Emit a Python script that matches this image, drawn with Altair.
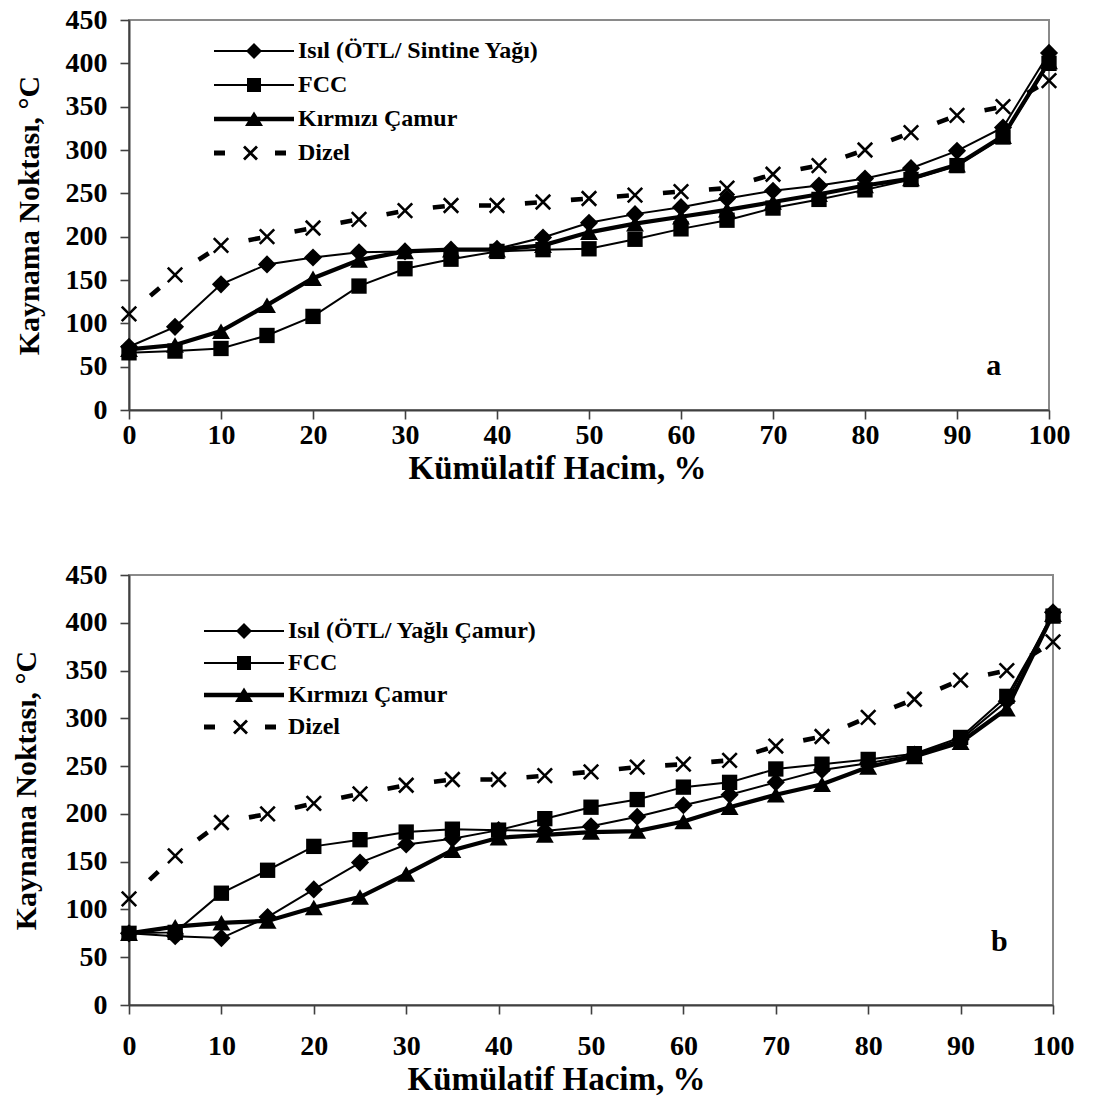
import math
import altair as alt
import pandas as pd

# ---------------- data ----------------
X = [0, 5, 10, 15, 20, 25, 30, 35, 40, 45, 50, 55, 60, 65, 70, 75, 80, 85, 90, 95, 100]
X_TICKS = [0, 10, 20, 30, 40, 50, 60, 70, 80, 90, 100]
Y_TICKS = [0, 50, 100, 150, 200, 250, 300, 350, 400, 450]

NAMES_A = ["Isıl (ÖTL/ Sintine Yağı)", "FCC", "Kırmızı Çamur", "Dizel"]
NAMES_B = ["Isıl (ÖTL/ Yağlı Çamur)", "FCC", "Kırmızı Çamur", "Dizel"]

A_ISIL = [73, 96, 145, 168, 176, 182, 183, 185, 186, 199, 216, 226, 234, 244, 253, 259, 267, 279, 299, 326, 412]
A_FCC = [66, 68, 71, 86, 108, 143, 163, 174, 183, 185, 186, 197, 209, 219, 233, 243, 254, 266, 282, 315, 400]
A_KIRMIZI = [70, 75, 91, 121, 152, 173, 183, 185, 185, 190, 205, 215, 223, 231, 240, 249, 259, 267, 283, 316, 402]
A_DIZEL = [111, 156, 190, 200, 210, 220, 230, 236, 236, 240, 244, 248, 252, 256, 272, 282, 300, 320, 340, 350, 380]

B_ISIL = [75, 72, 70, 92, 121, 149, 168, 174, 183, 182, 187, 197, 209, 220, 233, 246, 253, 262, 278, 318, 411]
B_FCC = [75, 76, 117, 141, 166, 173, 181, 184, 183, 195, 207, 215, 228, 233, 247, 252, 257, 263, 280, 323, 407]
B_KIRMIZI = [75, 82, 86, 88, 102, 113, 137, 162, 175, 178, 181, 182, 192, 207, 220, 231, 249, 260, 275, 310, 409]
B_DIZEL = [111, 156, 191, 200, 211, 221, 230, 236, 236, 240, 244, 249, 252, 256, 271, 281, 301, 320, 340, 350, 380]

X_TITLE = "Kümülatif Hacim, %"
Y_TITLE = "Kaynama Noktası, °C"

FONT = "Liberation Serif"

# ---------------- legend symbol paths (style only) ----------------
U = 12.0  # px per path unit (symbolSize = (2U)^2)


def p(v):
    return f"{v / U:.4f}"


def rect(x0, x1, hh):
    return f"M{p(x0)},{p(-hh)}L{p(x1)},{p(-hh)}L{p(x1)},{p(hh)}L{p(x0)},{p(hh)}Z"


def xmark(cx, h, t):
    e = t / 2 / math.sqrt(2)
    a = (f"M{p(cx - h + e)},{p(-h - e)}L{p(cx + h + e)},{p(h - e)}"
         f"L{p(cx + h - e)},{p(h + e)}L{p(cx - h - e)},{p(-h + e)}Z")
    b = (f"M{p(cx - h + e)},{p(h + e)}L{p(cx - h - e)},{p(h - e)}"
         f"L{p(cx + h - e)},{p(-h - e)}L{p(cx + h + e)},{p(-h + e)}Z")
    return a + b


SYM_ISIL = rect(-40, 40, 1.1) + f"M0,{p(-8)}L{p(8)},0L0,{p(8)}L{p(-8)},0Z"
SYM_FCC = rect(-40, 40, 1.1) + rect(-7, 7, 7)
SYM_KIRMIZI = rect(-40, 40, 2.3) + f"M0,{p(-7.5)}L{p(9)},{p(7)}L{p(-9)},{p(7)}Z"
SYM_DIZEL = rect(-40, -29, 2.6) + xmark(-3.5, 6.5, 2.8) + rect(21, 32, 2.6)
SYMBOLS = [SYM_ISIL, SYM_FCC, SYM_KIRMIZI, SYM_DIZEL]

X_SHAPE = "M-1,-1L1,1M1,-1L-1,1"


def panel(names, series, width, height, leg_x, leg_y, row_pad, letter, letter_x, letter_y,
          x_title_x, x_title_y, x_label_pad, y_title_x):
    rows = []
    for name, vals in zip(names, series):
        for xv, yv in zip(X, vals):
            rows.append({"x": xv, "y": yv, "s": name})
    df = pd.DataFrame(rows)

    dz = series[3]
    seg_rows = []
    for i in range(len(X) - 1):
        seg_rows.append({"x": X[i], "y": dz[i], "seg": i})
        seg_rows.append({"x": X[i + 1], "y": dz[i + 1], "seg": i})
    seg_df = pd.DataFrame(seg_rows)

    xenc = alt.X("x:Q", scale=alt.Scale(domain=[0, 100], nice=False, zero=False),
                 axis=alt.Axis(values=X_TICKS, title=X_TITLE, labelFlush=False, labelOverlap=False,
                               labelPadding=x_label_pad, titleX=x_title_x, titleY=x_title_y,
                               titleBaseline="middle", titleFontSize=33))
    yenc = alt.Y("y:Q", scale=alt.Scale(domain=[0, 450], nice=False),
                 axis=alt.Axis(values=Y_TICKS, title=Y_TITLE, labelPadding=13, labelOverlap=False,
                               titleAngle=270, titleX=y_title_x, titleY=height / 2,
                               titleBaseline="middle", titleFontSize=30))

    base = alt.Chart(df)

    def sel(i):
        return base.transform_filter(alt.datum.s == names[i])

    line_isil = sel(0).mark_line(color="black", strokeWidth=2).encode(x=xenc, y=yenc)
    line_fcc = sel(1).mark_line(color="black", strokeWidth=2).encode(x=xenc, y=yenc)
    line_kir = sel(2).mark_line(color="black", strokeWidth=4.2).encode(x=xenc, y=yenc)
    line_diz = alt.Chart(seg_df).mark_line(color="black", strokeWidth=4.6,
                                           strokeDash=[0, 28, 12, 500]).encode(
        x=xenc, y=yenc, detail="seg:N")

    pt_isil = sel(0).mark_point(shape="diamond", filled=True, color="black", opacity=1,
                                size=330).encode(x=xenc, y=yenc)
    pt_fcc = sel(1).mark_point(shape="square", filled=True, color="black", opacity=1,
                               size=235).encode(x=xenc, y=yenc)
    pt_kir = sel(2).mark_point(shape="triangle-up", filled=True, color="black", opacity=1,
                               size=320).encode(x=xenc, y=yenc)
    pt_diz = sel(3).mark_point(shape=X_SHAPE, filled=False, color="black", opacity=1,
                               strokeWidth=2.6, size=210).encode(x=xenc, y=yenc)

    legend_layer = base.transform_filter("false").mark_point(
        filled=True, color="black", opacity=1).encode(
        x=xenc, y=yenc,
        shape=alt.Shape("s:N", scale=alt.Scale(domain=names, range=SYMBOLS),
                        legend=alt.Legend(orient="none", legendX=leg_x, legendY=leg_y, title=None,
                                          padding=0, offset=0, rowPadding=row_pad,
                                          symbolSize=(2 * U) ** 2, symbolFillColor="black",
                                          symbolStrokeColor="black", symbolStrokeWidth=0,
                                          symbolOpacity=1, labelOffset=32, labelLimit=600,
                                          labelFont=FONT, labelFontWeight="bold",
                                          labelFontSize=24, labelColor="black")))

    txt = alt.Chart(pd.DataFrame({"t": [letter]})).mark_text(
        font=FONT, fontWeight="bold", fontSize=30, color="black", baseline="middle",
        align="center").encode(x=alt.datum(letter_x), y=alt.datum(letter_y), text="t:N")

    return alt.layer(line_isil, line_fcc, line_kir, line_diz, pt_isil, pt_fcc, pt_kir, pt_diz,
                     legend_layer, txt).properties(width=width, height=height)


top = panel(NAMES_A, [A_ISIL, A_FCC, A_KIRMIZI, A_DIZEL], 920, 390,
            leg_x=113, leg_y=19, row_pad=10, letter="a", letter_x=94.0, letter_y=51,
            x_title_x=428, x_title_y=58, x_label_pad=2, y_title_x=-100)
bottom = panel(NAMES_B, [B_ISIL, B_FCC, B_KIRMIZI, B_DIZEL], 924, 430,
               leg_x=103, leg_y=44, row_pad=8, letter="b", letter_x=94.2, letter_y=66,
               x_title_x=427, x_title_y=74, x_label_pad=18, y_title_x=-103)

chart = alt.concat(top, bottom, columns=1, spacing=74, align="none").resolve_scale(
    shape="independent").resolve_legend(shape="independent").properties(
    padding={"left": 2, "top": -3, "right": 5, "bottom": 5}
).configure_view(stroke="#8a8a8a", strokeWidth=2).configure_axis(
    grid=False, domainColor="#404040", domainWidth=2, tickColor="#404040", tickWidth=1.6,
    tickSize=9, labelFont=FONT, labelFontWeight="bold", labelFontSize=28, labelColor="black",
    titleFont=FONT, titleFontWeight="bold", titleColor="black"
)

chart.save("out.html", embed_options={"renderer": "svg", "actions": False})
